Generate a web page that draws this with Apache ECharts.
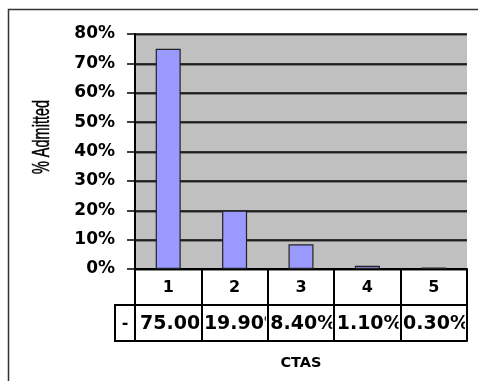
<!DOCTYPE html>
<html>
<head>
<meta charset="utf-8">
<script src="https://cdn.jsdelivr.net/npm/echarts@6/dist/echarts.min.js"></script>
<style>
  html, body { margin: 0; padding: 0; background: #fff; }
  #chart { width: 478px; height: 381px; }
</style>
</head>
<body>
<div id="chart"></div>
<script>
// CTAS levels and the share of patients admitted at each level (%)
const categories = ['1', '2', '3', '4', '5'];
const admitted = [75.0, 19.9, 8.4, 1.1, 0.3];

// y axis range (%)
const yMin = 0;
const yMax = 80;
const yStep = 10;

// data table rows: 0 = CTAS level, 1 = admitted share
const tableRows = ['level', 'value'];
const tableCells = [];
categories.forEach(function (c, i) {
  tableCells.push([i, 0]);
  tableCells.push([i, 1]);
});

const FONT = 'DejaVu Sans';

const chart = echarts.init(document.getElementById('chart'), null, { renderer: 'canvas' });

const gridLine = {
  color: '#000',
  width: 1.5,
  shadowColor: '#666',
  shadowOffsetY: 1,
  shadowBlur: 0
};

chart.setOption({
  animation: false,
  backgroundColor: '#fff',
  graphic: [
    {
      type: 'rect',
      shape: { x: 8.5, y: 9.5, width: 600, height: 600 },
      style: { fill: 'none', stroke: '#333', lineWidth: 1.5 },
      silent: true
    },
    {
      // vertical axis title, set in a tall condensed face
      type: 'text',
      x: 43,
      y: 137,
      rotation: Math.PI / 2,
      scaleX: 1,
      scaleY: 1.6,
      style: {
        text: '% Admitted',
        fontSize: 14.5,
        fontFamily: 'Liberation Sans',
        fill: '#000',
        stroke: '#000',
        lineWidth: 0.3,
        align: 'center',
        verticalAlign: 'middle'
      }
    }
  ],
  grid: [
    { left: 135, right: 11, top: 34, height: 235, show: true, backgroundColor: '#c0c0c0', borderWidth: 0 },
    { left: 135, right: 11, top: 269, height: 72, show: false }
  ],
  xAxis: [
    {
      type: 'category',
      gridIndex: 0,
      data: categories,
      axisLine: { show: true, lineStyle: { color: '#000', width: 2 } },
      axisTick: { show: false },
      axisLabel: { show: false },
      splitLine: { show: false }
    },
    {
      type: 'category',
      gridIndex: 1,
      data: categories,
      boundaryGap: true,
      axisLine: { show: true, lineStyle: { color: '#000', width: 2 } },
      axisTick: { show: false },
      axisLabel: { show: false },
      splitLine: { show: true, lineStyle: { color: '#000', width: 2 } },
      name: 'CTAS',
      nameLocation: 'middle',
      nameGap: 15,
      nameTextStyle: { fontFamily: FONT, fontWeight: 'bold', fontSize: 14.5, color: '#000', verticalAlign: 'top' }
    }
  ],
  yAxis: [
    {
      type: 'value',
      gridIndex: 0,
      min: yMin,
      max: yMax,
      interval: yStep,
      axisLine: { show: true, lineStyle: { color: '#000', width: 2 } },
      axisTick: { show: true, length: 8, lineStyle: { color: '#000', width: 1.5 } },
      axisLabel: {
        margin: 20,
        formatter: '{value}%',
        fontFamily: FONT,
        fontWeight: 'bold',
        fontSize: 17,
        color: '#000'
      },
      splitLine: { show: true, lineStyle: gridLine }
    },
    {
      type: 'category',
      gridIndex: 1,
      data: tableRows,
      inverse: true,
      boundaryGap: true,
      axisLine: { show: true, lineStyle: { color: '#000', width: 2 } },
      axisTick: { show: false },
      axisLabel: { show: false },
      splitLine: { show: true, lineStyle: { color: '#000', width: 2 } }
    }
  ],
  series: [
    {
      type: 'bar',
      xAxisIndex: 0,
      yAxisIndex: 0,
      data: admitted,
      barWidth: 25,
      barMinHeight: 1.5,
      itemStyle: { color: '#9999ff', borderColor: '#222', borderWidth: 1.2 }
    },
    {
      type: 'custom',
      xAxisIndex: 1,
      yAxisIndex: 1,
      clip: false,
      data: tableCells,
      renderItem: function (params, api) {
        const i = api.value(0);
        const row = api.value(1);
        const c = api.coord([i, row]);
        const s = api.size([1, 1]);
        const left = c[0] - s[0] / 2;
        const top = c[1] - s[1] / 2;
        const children = [];
        if (row === 0) {
          children.push({
            type: 'text',
            style: {
              text: categories[i],
              x: c[0],
              y: c[1] + 1,
              align: 'center',
              verticalAlign: 'middle',
              font: 'bold 16px "' + FONT + '"',
              fill: '#000'
            }
          });
        } else {
          children.push({
            type: 'group',
            clipPath: { type: 'rect', shape: { x: left + 1, y: top, width: s[0] - 3, height: s[1] } },
            children: [{
              type: 'text',
              style: {
                text: admitted[i].toFixed(2) + '%',
                x: left + (i === 0 ? 5 : 2.5),
                y: c[1] + 1,
                align: 'left',
                verticalAlign: 'middle',
                font: 'bold 19px "' + FONT + '"',
                fill: '#000'
              }
            }]
          });
          if (i === 0) {
            // legend-key cell to the left of the value row
            children.push({
              type: 'rect',
              shape: { x: left - 20, y: top, width: 20, height: s[1] },
              style: { fill: 'none', stroke: '#000', lineWidth: 2 }
            });
            children.push({
              type: 'text',
              style: {
                text: '-',
                x: left - 10,
                y: c[1] + 1,
                align: 'center',
                verticalAlign: 'middle',
                font: 'bold 16px "' + FONT + '"',
                fill: '#000'
              }
            });
          }
        }
        return { type: 'group', children: children };
      }
    }
  ]
});
</script>
</body>
</html>
